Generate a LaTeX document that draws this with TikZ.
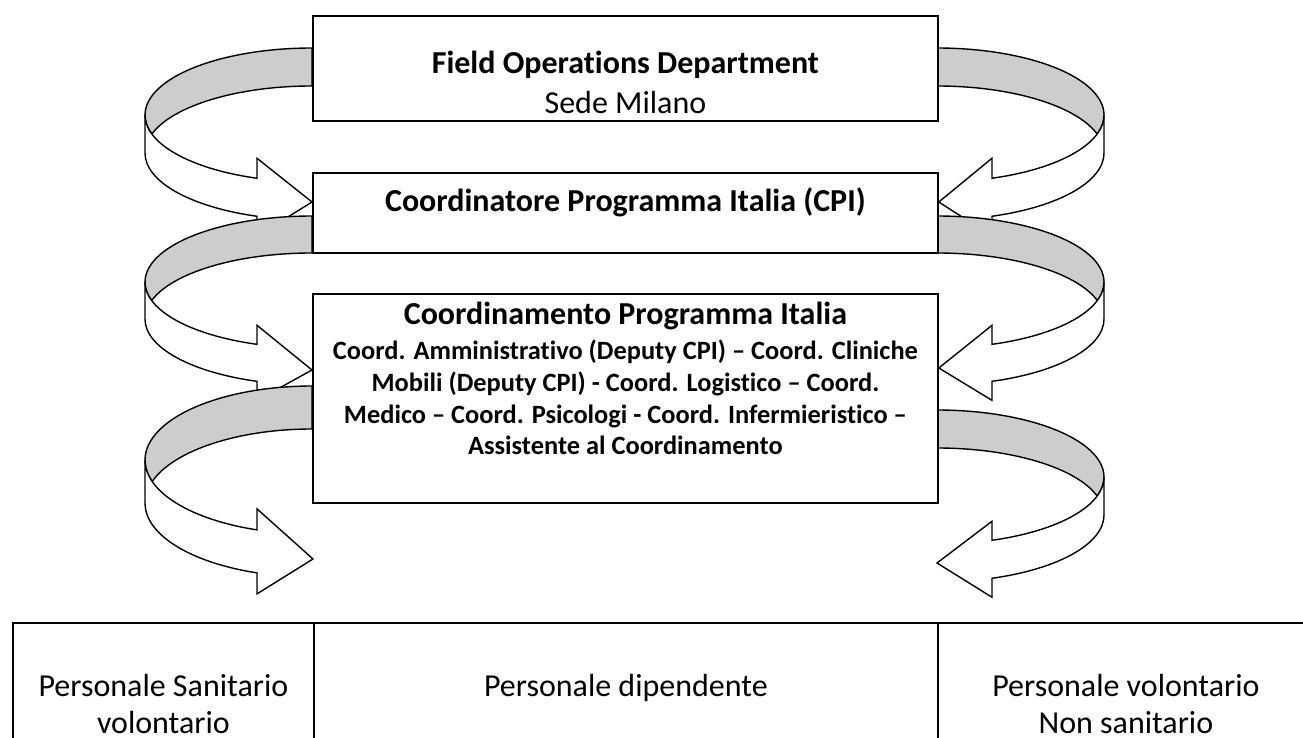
\documentclass[tikz,border=0pt]{standalone}
\usepackage{fontspec}
\setmainfont{Carlito}[Ligatures={NoCommon}]
\usetikzlibrary{positioning,calc,backgrounds}
\definecolor{bandgray}{HTML}{CDCDCD}
\tikzset{
  orgbox/.style={draw, line width=1.8pt, fill=white, minimum width=625pt, anchor=north west, inner sep=0pt},
  boxtext/.style={align=center, inner sep=0pt, font=\fontsize{32}{40}\selectfont},
  subtext/.style={align=center, inner sep=0pt, font=\fontsize{26.4}{31.7}\selectfont\bfseries},
  cell/.style={draw, line width=1.8pt, anchor=north west, align=center, inner xsep=0pt, inner ysep=51pt,
               text depth=90pt, font=\fontsize{32}{37}\selectfont},
  back/.style={draw, line width=1.4pt, fill=bandgray},
  front/.style={draw, line width=1.4pt, fill=white},
}
% #1 side (1 left, -1 right), #2 edge x, #3 top y, #4 band, #5 y radius, #6 barb, #7 tip
\newcommand{\ribbon}[7]{%
  \pgfmathsetmacro\rphi{asin(#4/(2*#5))}
  \pgfmathsetmacro\rpsi{acos(55/167)}
  \pgfmathsetmacro\aa{90+(#1)*(90+\rphi)}
  \pgfmathsetmacro\ab{90+(#1)*(90-\rphi)}
  \pgfmathsetmacro\ac{90+(#1)*90}
  \pgfmathsetmacro\ad{90+(#1)*(90+\rpsi)}
  \pgfmathsetmacro\ex{#2-(#1)*55}
  \pgfmathsetmacro\ey{-(#3+#5)-#5*sin(\rpsi)}
  \pgfmathsetmacro\sx{#2-(#1)*167}
  \path[back] (#2,-#3) arc[start angle=90, end angle=\aa, x radius=167, y radius=#5]
    arc[start angle=\ab, end angle=90, x radius=167, y radius=#5] -- cycle;
  \path[front] (\sx,-#3-#5) arc[start angle=\ac, end angle=\ad, x radius=167, y radius=#5]
    -- (\ex,\ey+#6) -- (#7) -- (\ex,\ey-#4-#6) -- (\ex,\ey-#4)
    arc[start angle=\ad, end angle=\ac, x radius=167, y radius=#5] -- cycle;
}

\begin{document}
\begin{tikzpicture}[x=1pt,y=1pt]
  \useasboundingbox (0,0) rectangle (1303,-738);
  % boxes
  \node[orgbox, minimum height=105pt] (fod) at (312,-15) {};
  \node[orgbox, minimum height=80pt] (cpi) at (312,-172) {};
  \node[orgbox, minimum height=209pt] (crd) at (312,-293) {};
  \node[boxtext, below=36pt of fod.north] (fodtxt) {{\bfseries Field Operations Department}\\Sede Milano};
  \node[boxtext, below=16pt of cpi.north, font=\fontsize{32}{40}\selectfont\bfseries] (cpitxt) {Coordinatore Programma Italia (CPI)};
  \node[boxtext, below=9pt of crd.north, font=\fontsize{32}{40}\selectfont\bfseries] (crdhead) {Coordinamento Programma Italia};
  \node[subtext, below=47pt of crd.north] (crdbody) {Coord. Amministrativo (Deputy CPI) -- Coord. Cliniche\\
    Mobili (Deputy CPI) - Coord. Logistico -- Coord.\\
    Medico -- Coord. Psicologi - Coord. Infermieristico --\\
    Assistente al Coordinamento};
  % table
  \node[cell, minimum width=301pt] (san) at (12,-622) {Personale Sanitario\\volontario};
  \node[cell, minimum width=624pt] (dip) at (313,-622) {Personale dipendente};
  \node[cell, minimum width=376pt] (vol) at (937,-622) {Personale volontario\\Non sanitario};
  \coordinate (lend) at (313,-559);
  \coordinate (rend) at (937,-563);
  % curved arrows
  \begin{scope}[on background layer]
    \fill[white] (0,0) rectangle (1303,-738);
    \ribbon{1}{312}{48}{38}{67}{20}{cpi.west |- 0,-202}
    \ribbon{-1}{937}{48}{38}{67}{20}{cpi.east |- 0,-202}
    \ribbon{1}{312}{216}{37}{66}{19}{crd.west |- 0,-370}
    \ribbon{-1}{937}{216}{37}{66}{19}{crd.east |- 0,-368}
    \ribbon{1}{312}{386}{43}{74}{21}{lend}
    \ribbon{-1}{937}{410}{38}{67}{19}{rend}
  \end{scope}
\end{tikzpicture}
\end{document}
